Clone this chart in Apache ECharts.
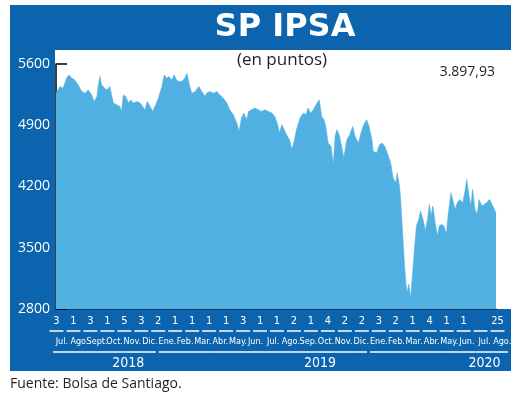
<!DOCTYPE html>
<html>
<head>
<meta charset="utf-8">
<title>SP IPSA</title>
<script src="https://cdn.jsdelivr.net/npm/echarts@6/dist/echarts.min.js"></script>
<style>
  html, body { margin: 0; padding: 0; background: #fff; }
  #chart { width: 520px; height: 396px; }
</style>
</head>
<body>
<div id="chart"></div>
<script>
// índice IPSA, puntos
var dates = [
  '2018-07-03','2018-07-06','2018-07-10','2018-07-15','2018-07-21','2018-07-25','2018-07-30',
  '2018-08-04','2018-08-10','2018-08-16','2018-08-22','2018-08-27',
  '2018-09-02','2018-09-06','2018-09-11','2018-09-13','2018-09-16','2018-09-19','2018-09-24','2018-09-28',
  '2018-10-03','2018-10-09','2018-10-15','2018-10-20','2018-10-23','2018-10-26','2018-10-30',
  '2018-11-04','2018-11-08','2018-11-12','2018-11-18','2018-11-24','2018-11-27',
  '2018-12-02','2018-12-06','2018-12-11','2018-12-15','2018-12-19','2018-12-25','2018-12-31',
  '2019-01-04','2019-01-08','2019-01-12','2019-01-17','2019-01-21','2019-01-25','2019-01-29',
  '2019-02-03','2019-02-08','2019-02-12','2019-02-16','2019-02-20','2019-02-26',
  '2019-03-04','2019-03-09','2019-03-15','2019-03-17','2019-03-23','2019-03-29',
  '2019-04-04','2019-04-09','2019-04-15','2019-04-21','2019-04-26',
  '2019-05-02','2019-05-08','2019-05-12','2019-05-16','2019-05-20','2019-05-25','2019-05-28',
  '2019-06-02','2019-06-08','2019-06-14','2019-06-19','2019-06-25',
  '2019-07-01','2019-07-07','2019-07-12','2019-07-16','2019-07-20','2019-07-24','2019-07-28',
  '2019-08-01','2019-08-06','2019-08-10','2019-08-14','2019-08-18','2019-08-24','2019-08-30',
  '2019-09-03','2019-09-07','2019-09-11','2019-09-16','2019-09-22','2019-09-26','2019-09-30',
  '2019-10-04','2019-10-07','2019-10-11','2019-10-16','2019-10-20','2019-10-23','2019-10-26','2019-10-30',
  '2019-11-03','2019-11-07','2019-11-12','2019-11-17','2019-11-22','2019-11-26',
  '2019-12-02','2019-12-07','2019-12-11','2019-12-16','2019-12-20','2019-12-25','2019-12-27',
  '2020-01-02','2020-01-07','2020-01-11','2020-01-16','2020-01-22','2020-01-26','2020-01-30',
  '2020-02-04','2020-02-06','2020-02-10','2020-02-12','2020-02-15','2020-02-18','2020-02-21','2020-02-23','2020-02-26','2020-02-29',
  '2020-03-04','2020-03-07','2020-03-10','2020-03-14','2020-03-17','2020-03-22','2020-03-25','2020-03-29',
  '2020-04-01','2020-04-04','2020-04-07','2020-04-11','2020-04-15','2020-04-18','2020-04-22','2020-04-26','2020-04-30',
  '2020-05-03','2020-05-08','2020-05-11','2020-05-15','2020-05-19','2020-05-23','2020-05-28',
  '2020-06-01','2020-06-04','2020-06-07','2020-06-11','2020-06-14','2020-06-18','2020-06-22','2020-06-25','2020-06-30',
  '2020-07-02','2020-07-08','2020-07-13','2020-07-17','2020-07-20','2020-07-24'
];
var values = [
  5270,5285,5342,5323,5437,5475,5437,
  5418,5361,5285,5266,5304,
  5247,5171,5228,5342,5456,5361,5323,5304,
  5342,5153,5133,5114,5057,5247,5228,
  5153,5190,5153,5171,5153,5171,
  5076,5171,5114,5057,5114,5209,5342,
  5475,5437,5456,5418,5475,5418,5399,
  5399,5437,5494,5361,5266,5285,
  5342,5285,5228,5266,5285,5266,
  5285,5247,5209,5153,5076,
  5020,4925,4830,4982,5039,4963,5057,
  5076,5096,5076,5057,5076,
  5057,5039,5001,4925,4811,4906,4849,
  4792,4735,4621,4716,4849,4982,5039,
  5020,5096,5039,5076,5153,5190,5001,
  4963,4887,4697,4659,4451,4773,4849,4792,
  4659,4527,4735,4792,4887,4773,
  4697,4830,4906,4963,4887,4735,4602,
  4584,4678,4697,4659,4545,4470,4299,
  4242,4356,4204,4052,3711,3370,3085,2990,3085,2914,
  3256,3521,3749,3825,3919,3806,3692,3825,
  3996,3862,3977,3787,3635,3749,3768,3749,3654,
  3862,4129,4052,3939,4015,4052,4015,
  4147,4280,4129,3977,4166,3939,3882,4052,3977,
  3958,4015,4052,3996,3977,3897.93
];
var yTicks = [2800, 3500, 4200, 4900, 5600];
var dayLabels = ['3','1','3','1','5','3','2','1','1','1','1','3','1',
                 '1','2','1','4','2','2','3','2','1','4','1','1','','25'];
var monthLabels = ['Jul.','Ago.','Sept.','Oct.','Nov.','Dic.',
                   'Ene.','Feb.','Mar.','Abr.','May.','Jun.','Jul.','Ago.','Sep.','Oct.','Nov.','Dic.',
                   'Ene.','Feb.','Mar.','Abr.','May.','Jun.','Jul.','Ago.'];
var yearLabels = ['2018', '2019', '2020'];

var BLUE = '#0b64ad';
var AREA = '#50b0e2';
var NARROW = '"DejaVu Sans", sans-serif';

// año de cada mes (el eje parte en julio de 2018)
function yearIdx(i) {
  return Math.floor((6 + i) / 12);
}
// mes bajo el cual va el año, y espacio para correrlo a la izquierda
var yearMark = { 4: 's4', 15: 's12', 24: '' };

function esNum(v) {
  var p = v.toFixed(2).split('.');
  return p[0].replace(/\B(?=(\d{3})+(?!\d))/g, '.') + ',' + p[1];
}

var chart = echarts.init(document.getElementById('chart'));

var option = {
  backgroundColor: '#fff',
  animation: false,
  graphic: [
    { type: 'rect', z: -10, shape: { x: 10, y: 5, width: 501, height: 366 }, style: { fill: BLUE } },
    { type: 'rect', z: -9, shape: { x: 55, y: 50, width: 456, height: 259 }, style: { fill: '#fff' } },
    { type: 'text', z: 100, x: 285, y: 28, style: {
        text: 'SP IPSA', fill: '#fff', font: 'bold 32px "DejaVu Sans", sans-serif',
        align: 'center', verticalAlign: 'middle', textAlign: 'center', textVerticalAlign: 'middle' } },
    { type: 'text', z: 100, x: 282, y: 60, style: {
        text: '(en puntos)', fill: '#231f20', font: '17px "Open Sans", sans-serif',
        align: 'center', verticalAlign: 'middle', textAlign: 'center', textVerticalAlign: 'middle' } },
    { type: 'text', z: 100, x: 495, y: 72, style: {
        text: esNum(values[values.length - 1]), fill: '#231f20', font: '14px "Open Sans", sans-serif',
        align: 'right', verticalAlign: 'middle', textAlign: 'right', textVerticalAlign: 'middle' } },
    { type: 'text', z: 100, x: 10, y: 384, style: {
        text: 'Fuente: Bolsa de Santiago.', fill: '#231f20', font: '14px "Open Sans", sans-serif',
        align: 'left', verticalAlign: 'middle', textAlign: 'left', textVerticalAlign: 'middle' } }
  ],
  grid: [
    { left: 56, right: 24, top: 64, bottom: 87 },
    { left: 48, right: 14, top: 280, bottom: 87 },
    { left: 53, right: 9, top: 280, bottom: 87 }
  ],
  xAxis: [
    {
      type: 'time',
      gridIndex: 0,
      min: dates[0],
      max: dates[dates.length - 1],
      axisLine: { show: true, lineStyle: { color: '#1b2a44', width: 1.5 } },
      axisTick: { show: false },
      axisLabel: { show: false },
      splitLine: { show: false }
    },
    {
      type: 'category',
      gridIndex: 1,
      data: dayLabels,
      axisLine: { show: false },
      axisTick: { show: false },
      splitLine: { show: false },
      axisLabel: {
        interval: 0,
        margin: 5,
        formatter: function (v) {
          return '{n|' + v + '}\n{u|}';
        },
        rich: {
          n: { color: '#fff', fontSize: 11, lineHeight: 15, fontWeight: 'condensed', fontFamily: NARROW },
          u: { width: 14, height: 1.5, lineHeight: 4, backgroundColor: '#fff' }
        }
      }
    },
    {
      type: 'category',
      gridIndex: 2,
      data: monthLabels,
      axisLine: { show: false },
      axisTick: { show: false },
      splitLine: { show: false },
      axisLabel: {
        interval: 0,
        margin: 27,
        formatter: function (v, i) {
          var y = yearIdx(i);
          var lastOfYear = i === monthLabels.length - 1 || yearIdx(i + 1) !== y;
          var s = '{m|' + v + '}\n' + (lastOfYear ? '{le|}{g|}' : '{l|}');
          if (yearMark[i] !== undefined) {
            s += '\n{y|' + yearLabels[y] + '}' + (yearMark[i] ? '{' + yearMark[i] + '|}' : '');
          }
          return s;
        },
        rich: {
          m: { color: '#fff', fontSize: 9, lineHeight: 12, fontWeight: 'condensed', fontFamily: NARROW },
          l: { width: 17.6, height: 1.5, lineHeight: 8, backgroundColor: '#fff' },
          le: { width: 14.6, height: 1.5, lineHeight: 8, backgroundColor: '#fff' },
          g: { width: 3, height: 1.5, lineHeight: 8 },
          y: { color: '#fff', fontSize: 14, lineHeight: 14, fontWeight: 'condensed', fontFamily: NARROW },
          s4: { width: 8, lineHeight: 14 },
          s12: { width: 12, lineHeight: 14 }
        }
      }
    }
  ],
  yAxis: [
    {
      type: 'value',
      gridIndex: 0,
      min: yTicks[0],
      max: yTicks[yTicks.length - 1],
      interval: yTicks[1] - yTicks[0],
      axisLine: { show: true, lineStyle: { color: '#000', width: 1.5 } },
      axisTick: { show: true, inside: true, length: 11, lineStyle: { color: '#000', width: 1.5 } },
      splitLine: { show: false },
      axisLabel: {
        color: '#fff', fontSize: 14, margin: 6, fontFamily: '"Open Sans", sans-serif',
        formatter: function (v) { return String(v); }
      }
    },
    { type: 'value', gridIndex: 1, show: false },
    { type: 'value', gridIndex: 2, show: false }
  ],
  series: [
    {
      type: 'line',
      xAxisIndex: 0,
      yAxisIndex: 0,
      data: dates.map(function (d, i) { return [d, values[i]]; }),
      showSymbol: false,
      symbol: 'none',
      lineStyle: { width: 0.6, color: AREA },
      areaStyle: { color: AREA, opacity: 1, origin: 'start' }
    }
  ]
};

chart.setOption(option);
</script>
</body>
</html>
